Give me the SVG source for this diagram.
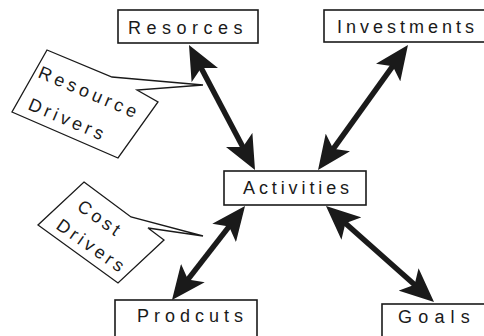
<svg xmlns="http://www.w3.org/2000/svg" width="484" height="336" viewBox="0 0 484 336">
<style>
.box{fill:#fff;stroke:#1a1a1a;stroke-width:1.6}
.lbl{font-family:"Liberation Sans",Arial,sans-serif;font-size:18px;fill:#1a1a1a}
.call{fill:#fff;stroke:#1a1a1a;stroke-width:1.3;stroke-linejoin:miter}
.arr{stroke:#1a1a1a;stroke-width:5.5;fill:none;marker-start:url(#ah);marker-end:url(#ah)}
</style>
<defs>
<marker id="ah" viewBox="0 0 34 30" refX="19" refY="15" markerWidth="34" markerHeight="30" markerUnits="userSpaceOnUse" orient="auto-start-reverse">
<path d="M0,0 L34,15 L0,30 L8,15 Z" fill="#1a1a1a"/>
</marker>
</defs>
<rect width="484" height="336" fill="#fff"/>
<g id="resorces">
<rect class="box" x="118" y="10" width="140" height="33"/>
<text class="lbl" x="128" y="34" letter-spacing="5.5">Resorces</text>
</g>
<g id="investments">
<rect class="box" x="324" y="10" width="170" height="32"/>
<text class="lbl" x="337" y="33" letter-spacing="4">Investments</text>
</g>
<g id="activities">
<rect class="box" x="224" y="171" width="142" height="34"/>
<text class="lbl" x="243" y="194" letter-spacing="3.9">Activities</text>
</g>
<g id="prodcuts">
<rect class="box" x="115" y="300" width="142" height="45"/>
<text class="lbl" x="137" y="322" letter-spacing="5">Prodcuts</text>
</g>
<g id="goals">
<rect class="box" x="382" y="304" width="120" height="45"/>
<text class="lbl" x="398" y="323" letter-spacing="6.2">Goals</text>
</g>
<g id="resource-drivers">
<path class="call" d="M47,50 L112,77 L203,85 L137,90 L158,102 L118,158 L12,112 Z"/>
<text class="lbl" transform="translate(37,77) rotate(23)" letter-spacing="4">Resource</text>
<text class="lbl" transform="translate(27,109) rotate(23)" letter-spacing="3.8">Drivers</text>
</g>
<g id="cost-drivers">
<path class="call" d="M84,182 L131,217 L203,236 L148,228 L164,240 L118,283 L38,225 Z"/>
<text class="lbl" transform="translate(76,209) rotate(35)" letter-spacing="3.5">Cost</text>
<text class="lbl" transform="translate(55,228) rotate(35)" letter-spacing="3.5">Drivers</text>
</g>
<g id="connectors">
<line class="arr" x1="196" y1="58.3" x2="248" y2="156.7"/>
<line class="arr" x1="399.2" y1="57.2" x2="326.8" y2="157.8"/>
<line class="arr" x1="235.8" y1="217.9" x2="181.2" y2="288.1"/>
<line class="arr" x1="337.2" y1="216" x2="422.8" y2="292"/>
</g>
</svg>
